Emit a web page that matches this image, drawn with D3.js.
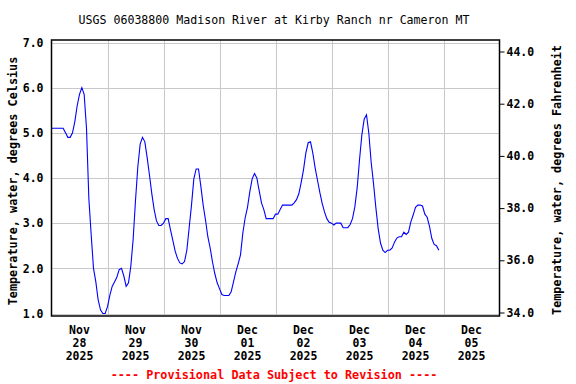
<!DOCTYPE html>
<html>
<head>
<meta charset="utf-8">
<script src="https://cdn.jsdelivr.net/npm/d3@7"></script>
<style>
  html, body { margin: 0; padding: 0; background: #fff; }
  svg text { font-family: "DejaVu Sans Mono", "Liberation Mono", monospace; }
</style>
</head>
<body>
<div id="chart"></div>
<script>
/* USGS water temperature, Madison River at Kirby Ranch: hourly readings. */

var title = "USGS 06038800 Madison River at Kirby Ranch nr Cameron MT";
var startTime = new Date(2025, 10, 28, 0, 0);
var endTime = new Date(2025, 11, 6, 0, 0);

// hourly water temperature, deg C, starting Nov 28 2025 00:00
var tempC = [
  5.1, 5.1, 5.1, 5.1, 5.1, 5.1, 5.0, 4.9, 4.9, 5.0,
  5.25, 5.6, 5.85, 6.0, 5.85, 5.1, 3.55, 2.75, 2.0, 1.7,
  1.3, 1.08, 1.0, 1.0, 1.15, 1.4, 1.6, 1.7, 1.8, 1.97,
  2.0, 1.83, 1.6, 1.68, 2.05, 2.65, 3.5, 4.25, 4.75, 4.9,
  4.8, 4.45, 4.06, 3.65, 3.3, 3.05, 2.95, 2.95, 3.0, 3.1,
  3.1, 2.85, 2.62, 2.38, 2.22, 2.12, 2.1, 2.15, 2.4, 2.9,
  3.4, 3.98, 4.2, 4.2, 3.82, 3.4, 3.07, 2.7, 2.45, 2.14,
  1.88, 1.68, 1.55, 1.42, 1.4, 1.4, 1.4, 1.48, 1.7, 1.92,
  2.1, 2.3, 2.78, 3.12, 3.35, 3.7, 3.98, 4.1, 4.0, 3.72,
  3.45, 3.3, 3.1, 3.1, 3.1, 3.1, 3.2, 3.2, 3.3, 3.4,
  3.4, 3.4, 3.4, 3.4, 3.45, 3.52, 3.65, 3.9, 4.18, 4.55,
  4.78, 4.8, 4.55, 4.22, 3.95, 3.68, 3.44, 3.25, 3.1, 3.02,
  3.0, 2.96, 3.0, 3.0, 3.0, 2.9, 2.9, 2.9, 2.97, 3.1,
  3.36, 3.78, 4.4, 4.95, 5.3, 5.4, 4.99, 4.35, 3.88, 3.35,
  2.88, 2.56, 2.4, 2.35, 2.4, 2.4, 2.45, 2.58, 2.67, 2.7,
  2.7, 2.8, 2.75, 2.8, 3.03, 3.18, 3.35, 3.4, 3.4, 3.38,
  3.2, 3.13, 2.93, 2.66, 2.53, 2.5, 2.4
];

var celsiusTicks = [1, 2, 3, 4, 5, 6, 7];
var fahrenheitTicks = [34, 36, 38, 40, 42, 44];
var dayLabels = [
  ["Nov", "28", "2025"], ["Nov", "29", "2025"], ["Nov", "30", "2025"],
  ["Dec", "01", "2025"], ["Dec", "02", "2025"], ["Dec", "03", "2025"],
  ["Dec", "04", "2025"], ["Dec", "05", "2025"]
];

var W = 576, H = 384;
var plotL = 51.5, plotR = 499.5, plotT = 40, plotB = 316;

var svg = d3.select("#chart").append("svg")
  .attr("width", W).attr("height", H)
  .attr("viewBox", "0 0 " + W + " " + H);

var x = d3.scaleTime().domain([startTime, endTime]).range([plotL, plotR]);
var y = d3.scaleLinear().domain([1, 7]).range([313.5, 42.5]);
var yF = d3.scaleLinear().domain([34, 44]).range([312.5, 51.5]);

var series = tempC.map(function (v, i) {
  return { t: d3.timeHour.offset(startTime, i), v: v };
});

// gridlines
var days = d3.timeDay.range(d3.timeDay.offset(startTime, 1), endTime);
svg.append("g").selectAll("line").data(days).enter().append("line")
  .attr("x1", function (d) { return Math.round(x(d)) + 0.5; })
  .attr("x2", function (d) { return Math.round(x(d)) + 0.5; })
  .attr("y1", plotT).attr("y2", plotB)
  .attr("stroke", "#c8c8c8").attr("stroke-width", 1);

svg.append("g").selectAll("line").data(celsiusTicks).enter().append("line")
  .attr("x1", plotL).attr("x2", plotR)
  .attr("y1", function (d) { return Math.round(y(d)) + 0.5; })
  .attr("y2", function (d) { return Math.round(y(d)) + 0.5; })
  .attr("stroke", "#c8c8c8").attr("stroke-width", 1);

// data line
var line = d3.line()
  .x(function (d) { return x(d.t); })
  .y(function (d) { return y(d.v); });

svg.append("path").datum(series)
  .attr("d", line)
  .attr("fill", "none")
  .attr("stroke", "#0000ff")
  .attr("stroke-width", 1.1);

// frame
svg.append("rect")
  .attr("x", plotL).attr("y", plotT)
  .attr("width", plotR - plotL).attr("height", plotB - plotT)
  .attr("fill", "none").attr("stroke", "#000").attr("stroke-width", 1.5);

// left axis
var gl = svg.append("g").attr("transform", "translate(" + (plotL - 5) + ",0)")
  .call(d3.axisLeft(y).tickValues(celsiusTicks).tickSize(0).tickFormat(d3.format(".1f")));
gl.select(".domain").remove();
gl.selectAll("text").attr("font-size", 11.5).attr("font-weight", "bold")
  .attr("fill", "#000").attr("font-family", "DejaVu Sans Mono");

// right axis
var gr = svg.append("g").attr("transform", "translate(" + plotR + ",0)")
  .call(d3.axisRight(yF).tickValues(fahrenheitTicks).tickSize(5).tickPadding(2).tickFormat(d3.format(".1f")));
gr.select(".domain").remove();
gr.selectAll("line").attr("stroke", "#000");
gr.selectAll("text").attr("font-size", 11.5).attr("font-weight", "bold")
  .attr("fill", "#000").attr("font-family", "DejaVu Sans Mono");

// bottom date labels at noon of each day
var noon = d3.timeDay.range(startTime, endTime).map(function (d) { return d3.timeHour.offset(d, 12); });
var lab = svg.append("g").selectAll("text").data(noon).enter().append("text")
  .attr("text-anchor", "middle")
  .attr("font-size", 11.5).attr("font-weight", "bold").attr("fill", "#000");
lab.each(function (d, i) {
  var t = d3.select(this);
  dayLabels[i].forEach(function (s, k) {
    t.append("tspan").attr("x", x(d)).attr("y", 334 + k * 13).text(s);
  });
});

// titles
svg.append("text").attr("x", 274).attr("y", 24).attr("text-anchor", "middle")
  .attr("font-size", 11.6).attr("fill", "#000").text(title);

svg.append("text")
  .attr("transform", "translate(17," + ((plotT + plotB) / 2 + 3) + ") rotate(-90)")
  .attr("text-anchor", "middle").attr("font-size", 11.8).attr("font-weight", "bold")
  .attr("fill", "#000").text("Temperature, water, degrees Celsius");

svg.append("text")
  .attr("transform", "translate(561," + ((plotT + plotB) / 2 + 2) + ") rotate(-90)")
  .attr("text-anchor", "middle").attr("font-size", 11.8).attr("font-weight", "bold")
  .attr("fill", "#000").text("Temperature, water, degrees Fahrenheit");

svg.append("text").attr("x", 274).attr("y", 379).attr("text-anchor", "middle")
  .attr("font-size", 11.8).attr("font-weight", "bold").attr("fill", "#ff0000")
  .text("---- Provisional Data Subject to Revision ----");
</script>
</body>
</html>
